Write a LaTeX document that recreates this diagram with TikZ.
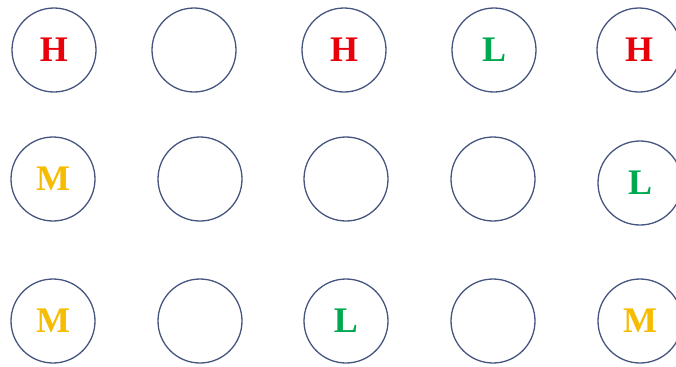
\documentclass[tikz,border=0pt]{standalone}
\usepackage{fontspec}
\setmainfont{Liberation Serif}
\definecolor{ring}{HTML}{45557F}
\definecolor{hred}{HTML}{E8000B}
\definecolor{lgreen}{HTML}{00A84F}
\definecolor{mgold}{HTML}{F5BC00}
\tikzset{
  slot/.style={circle, draw=ring, line width=1.3bp, minimum size=84bp, inner sep=0pt,
    font=\fontsize{36bp}{42bp}\selectfont\bfseries},
  hi/.style={text=hred},
  lo/.style={text=lgreen},
  mid/.style={text=mgold}
}
\begin{document}
\begin{tikzpicture}[x=1bp,y=-1bp]
\useasboundingbox (0,0) rectangle (676,366);
% row 1
\node[slot,hi]  (c11) at (54,50)  {H};
\node[slot]     (c12) at (194,50) {};
\node[slot,hi]  (c13) at (344,50) {H};
\node[slot,lo]  (c14) at (494,50) {L};
\node[slot,hi]  (c15) at (639,50) {H};
% row 2
\node[slot,mid] (c21) at (53,179)  {M};
\node[slot]     (c22) at (200,179) {};
\node[slot]     (c23) at (346,179) {};
\node[slot]     (c24) at (493,179) {};
\node[slot,lo]  (c25) at (640,183) {L};
% row 3
\node[slot,mid] (c31) at (53,321)  {M};
\node[slot]     (c32) at (200,321) {};
\node[slot,lo]  (c33) at (346,321) {L};
\node[slot]     (c34) at (493,321) {};
\node[slot,mid] (c35) at (640,321) {M};
\end{tikzpicture}
\end{document}
